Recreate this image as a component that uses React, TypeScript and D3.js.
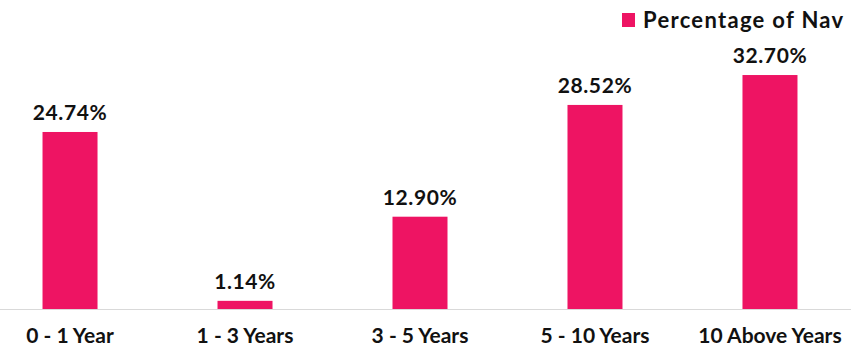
import React, { useEffect, useRef } from 'react';
import * as d3 from 'd3';

const categories = ['0 - 1 Year', '1 - 3 Years', '3 - 5 Years', '5 - 10 Years', '10 Above Years'];
const values = [24.74, 1.14, 12.9, 28.52, 32.7];
const seriesName = 'Percentage of Nav';

const App = () => {
  const svgRef = useRef<SVGSVGElement>(null);

  useEffect(() => {
    const svg = d3.select(svgRef.current);
    svg.selectAll('*').remove();

    const width = 851;
    const height = 352;
    const baseY = 309;
    const pink = '#ee1463';
    const font = 'Lato, sans-serif';

    const x = d3.scaleBand<string>()
      .domain(categories)
      .range([-17.5, 857.5])
      .paddingInner(0.6857)
      .paddingOuter(0.343);

    const y = d3.scaleLinear()
      .domain([0, 40])
      .range([baseY, baseY - 286.2]);

    svg.attr('width', width).attr('height', height);

    // baseline
    svg.append('line')
      .attr('x1', 0)
      .attr('x2', width)
      .attr('y1', baseY + 0.5)
      .attr('y2', baseY + 0.5)
      .attr('stroke', '#d9d9d9')
      .attr('stroke-width', 1);

    svg.selectAll('.bar')
      .data(categories)
      .enter().append('rect')
      .attr('class', 'bar')
      .attr('x', d => x(d)!)
      .attr('width', x.bandwidth())
      .attr('y', (d, i) => y(values[i]))
      .attr('height', (d, i) => baseY - y(values[i]))
      .attr('fill', pink);

    svg.selectAll('.val')
      .data(categories)
      .enter().append('text')
      .attr('class', 'val')
      .attr('x', d => x(d)! + x.bandwidth() / 2)
      .attr('y', (d, i) => y(values[i]) - 12)
      .attr('text-anchor', 'middle')
      .attr('font-family', font)
      .attr('font-weight', 'bold')
      .attr('font-size', 21)
      .attr('letter-spacing', 0.6)
      .attr('fill', '#111')
      .text((d, i) => values[i].toFixed(2) + '%');

    svg.selectAll('.cat')
      .data(categories)
      .enter().append('text')
      .attr('class', 'cat')
      .attr('x', d => x(d)! + x.bandwidth() / 2)
      .attr('y', 343)
      .attr('text-anchor', 'middle')
      .attr('font-family', font)
      .attr('font-weight', 'bold')
      .attr('font-size', 21)
      .attr('fill', '#111')
      .text(d => d);

    // legend
    const legend = svg.append('g');
    legend.append('rect')
      .attr('x', 622)
      .attr('y', 13)
      .attr('width', 13)
      .attr('height', 14)
      .attr('fill', pink);
    legend.append('text')
      .attr('x', 643)
      .attr('y', 28)
      .attr('font-family', font)
      .attr('font-weight', 'bold')
      .attr('font-size', 22)
      .attr('letter-spacing', 1.3)
      .attr('fill', '#111')
      .text(seriesName);
  }, []);

  return <svg ref={svgRef} style={{ position: 'absolute', left: 0, top: 0 }}></svg>;
};

export default App;
